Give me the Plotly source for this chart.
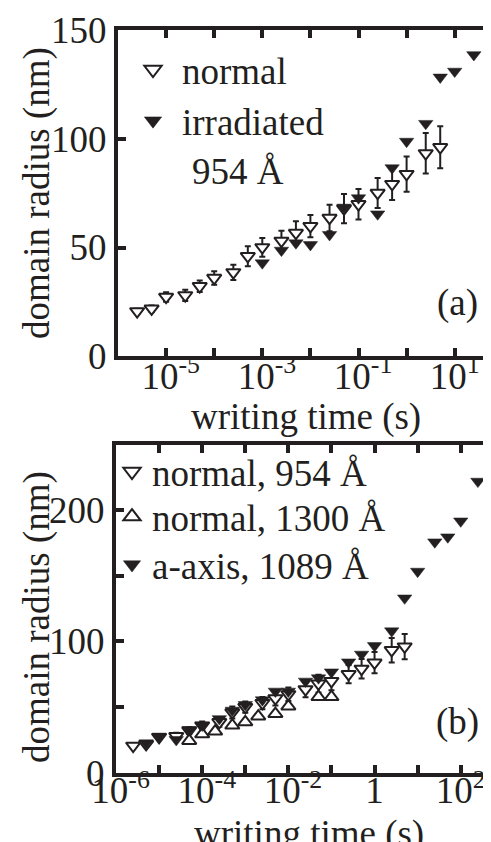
import plotly.graph_objects as go

# ---------------- data ----------------
# panel (a)
times_normal_954 = [2.5e-6, 5e-6, 1e-5, 2.5e-5, 5e-5, 1e-4, 2.5e-4, 5e-4, 1e-3, 2.5e-3,
                    5e-3, 1e-2, 2.5e-2, 5e-2, 0.1, 0.25, 0.5, 1, 2.5, 5]
radius_normal_954 = [20.7, 21.9, 27.3, 28.0, 32.2, 36.0, 38.6, 46.0, 50.1, 53.1,
                     56.7, 59.8, 63.6, 67.9, 69.9, 75.1, 79.2, 83.8, 93.3, 96.1]
err_normal_954 = [1.2, 1.5, 2.2, 2.6, 2.6, 3.1, 3.5, 4.6, 4.3, 4.6,
                  5.4, 5.1, 6.1, 6.7, 7.0, 6.9, 7.4, 8.1, 9.3, 9.6]

times_irradiated = [1e-3, 2.5e-3, 5e-3, 1e-2, 2.5e-2, 5e-2, 0.1, 0.25, 0.5, 1, 2.5, 5, 10, 25]
radius_irradiated = [42.9, 48.7, 52.1, 51.3, 55.9, 68.5, 72.8, 65.4, 86.6, 98.8, 107.0, 128.3, 131.0, 138.6]

# panel (b)
times_normal_1300 = [5e-5, 1e-4, 2e-4, 5e-4, 1e-3, 2e-3, 5e-3, 1e-2, 5e-2, 0.1]
radius_normal_1300 = [24.5, 29.5, 31.6, 36.1, 38.7, 43.1, 45.0, 50.7, 57.8, 57.8]

times_aaxis_1089 = [5e-6, 1e-5, 2.5e-5, 5e-5, 1e-4, 2.5e-4, 5e-4, 1e-3, 2.5e-3, 5e-3,
                    1e-2, 2.5e-2, 5e-2, 0.1, 0.25, 0.5, 1, 2.5, 5, 10, 25, 50, 100, 250]
radius_aaxis_1089 = [22.8, 27.9, 25.3, 32.9, 36.2, 41.2, 47.6, 51.9, 55.5, 62.1,
                     62.1, 69.7, 72.2, 76.7, 84.3, 90.2, 96.7, 107.9, 132.9, 153.2, 175.5, 179.3, 191.4, 221.6]

# ticks (labelled majors + unlabelled minors)
xticks_a = [1e-5, 1e-3, 1e-1, 10]
xlabels_a = ["\u00a010<sup>-5</sup>", "\u00a010<sup>-3</sup>",
             "\u00a010<sup>-1</sup>", "10<sup>1</sup>"]
xminor_a = [1e-6, 1e-4, 1e-2, 1]
yticks_a = [0, 50, 100, 150]
ylabels_a = ["0", "50", "100", "150"]

xticks_b = [1e-6, 1e-4, 1e-2, 1, 100]
xlabels_b = ["\u00a010<sup>-6</sup>", "\u00a010<sup>-4</sup>",
             "\u00a010<sup>-2</sup>", "1", "10<sup>2</sup>"]
xminor_b = [1e-5, 1e-3, 1e-1, 10]
yticks_b = [0, 100, 200]
ylabels_b = ["0", "100", "200"]
yminor_b = [50, 150]

# ---------------- style ----------------
W, H = 491, 842
INK = "#231f20"
FONT = "Liberation Serif"
FS = 37
MS = 12.5
LEG_MS = 15


def px(v):
    return v / W


def py(v):
    return 1 - v / H


fig = go.Figure()

err_style = dict(type="data", visible=True, color=INK, thickness=2, width=3)
open_down = dict(symbol="triangle-down", size=MS, color="white", line=dict(color=INK, width=2))
open_up = dict(symbol="triangle-up", size=MS, color="white", line=dict(color=INK, width=2))
filled_down = dict(symbol="triangle-down", size=MS, color=INK, line=dict(color=INK, width=0.5))

# panel (a)
fig.add_trace(go.Scatter(x=times_normal_954, y=radius_normal_954, mode="markers",
                         error_y=dict(array=err_normal_954, **err_style),
                         marker=open_down, xaxis="x", yaxis="y", showlegend=False))
fig.add_trace(go.Scatter(x=times_irradiated, y=radius_irradiated, mode="markers",
                         marker=filled_down, xaxis="x", yaxis="y", showlegend=False))
# panel (b)
fig.add_trace(go.Scatter(x=times_normal_954, y=radius_normal_954, mode="markers",
                         error_y=dict(array=err_normal_954, **err_style),
                         marker=open_down, xaxis="x2", yaxis="y2", showlegend=False))
fig.add_trace(go.Scatter(x=times_normal_1300, y=radius_normal_1300, mode="markers",
                         marker=open_up, xaxis="x2", yaxis="y2", showlegend=False))
fig.add_trace(go.Scatter(x=times_aaxis_1089, y=radius_aaxis_1089, mode="markers",
                         marker=filled_down, xaxis="x2", yaxis="y2", showlegend=False))


# legend entries (no data, legend symbols only)
def leg(name, marker, legend, xa, ya):
    m = dict(marker)
    m["size"] = LEG_MS
    fig.add_trace(go.Scatter(x=[None], y=[None], mode="markers", name=name, marker=m,
                             legend=legend, xaxis=xa, yaxis=ya, hoverinfo="skip"))


leg("normal", open_down, "legend", "x", "y")
leg("irradiated", filled_down, "legend", "x", "y")
leg("normal, 954 Å", open_down, "legend2", "x2", "y2")
leg("normal, 1300 Å", open_up, "legend3", "x2", "y2")
leg("a-axis, 1089 Å", filled_down, "legend4", "x2", "y2")

# empty traces so that the right-hand tick axes exist
fig.add_trace(go.Scatter(x=[None], y=[None], xaxis="x", yaxis="y3", showlegend=False, hoverinfo="skip"))
fig.add_trace(go.Scatter(x=[None], y=[None], xaxis="x2", yaxis="y4", showlegend=False, hoverinfo="skip"))

minor_style = dict(ticks="inside", ticklen=8, tickwidth=4, tickcolor=INK, showgrid=False)
axis_common = dict(showgrid=False, zeroline=False, showline=True, linecolor=INK, linewidth=4,
                   ticks="inside", ticklen=8, tickwidth=4, tickcolor=INK, automargin=False,
                   tickfont=dict(family=FONT, size=FS, color=INK))
right_common = dict(side="right", showgrid=False, zeroline=False, showline=False, ticks="inside",
                    ticklen=6, tickwidth=4, tickcolor=INK, showticklabels=False, automargin=False)

dom_a_y = [py(348.3), py(22)]
dom_b_y = [py(765), py(437.3)]

legend_common = dict(xanchor="left", yanchor="top", bgcolor="rgba(0,0,0,0)",
                     font=dict(family=FONT, size=FS, color=INK), tracegroupgap=0)

fig.update_layout(
    template="none",
    width=W, height=H,
    margin=dict(l=0, r=0, t=0, b=0, autoexpand=False),
    paper_bgcolor="white", plot_bgcolor="white",
    font=dict(family=FONT, size=FS, color=INK),
    xaxis=dict(type="log", range=[-6.0, 1.921], domain=[px(110), 1], anchor="y",
               tickvals=xticks_a, ticktext=xlabels_a, mirror="ticks", ticklabelstandoff=-16,
               minor=dict(tickvals=xminor_a, **minor_style), **axis_common),
    yaxis=dict(range=[0, 150], domain=dom_a_y, anchor="x",
               tickvals=yticks_a, ticktext=ylabels_a, mirror=False, **axis_common),
    yaxis3=dict(range=[0, 150], overlaying="y", anchor="x", tickvals=yticks_a, **right_common),
    xaxis2=dict(type="log", range=[-6.0, 2.888], domain=[px(108), 1], anchor="y2",
                tickvals=xticks_b, ticktext=xlabels_b, mirror="ticks", ticklabelstandoff=-18,
                minor=dict(tickvals=xminor_b, **minor_style), **axis_common),
    yaxis2=dict(range=[0, 249], domain=dom_b_y, anchor="x2",
                tickvals=yticks_b, ticktext=ylabels_b, mirror=False,
                minor=dict(tickvals=yminor_b, **minor_style), **axis_common),
    yaxis4=dict(range=[0, 249], overlaying="y2", anchor="x2", tickvals=yticks_b,
                minor=dict(tickvals=yminor_b, ticks="inside", ticklen=6, tickwidth=4, tickcolor=INK),
                **right_common),
    legend=dict(x=px(116), y=py(31), itemwidth=48, **legend_common),
    legend2=dict(x=px(104), y=py(433), itemwidth=30, **legend_common),
    legend3=dict(x=px(104), y=py(478), itemwidth=30, **legend_common),
    legend4=dict(x=px(104), y=py(526), itemwidth=30, **legend_common),
    showlegend=True,
)

ann = dict(showarrow=False, xref="paper", yref="paper", font=dict(family=FONT, size=FS, color=INK))
fig.add_annotation(text="954 Å", x=px(182), y=py(164), xanchor="left", yanchor="middle", **ann)
fig.add_annotation(text="(a)", x=px(449), y=py(295), xanchor="center", yanchor="middle", **ann)
fig.add_annotation(text="(b)", x=px(449), y=py(714), xanchor="center", yanchor="middle", **ann)
fig.add_annotation(text="domain radius (nm)", x=px(29), y=py(185), textangle=-90,
                   xanchor="center", yanchor="middle", **ann)
fig.add_annotation(text="domain radius (nm)", x=px(29), y=py(609), textangle=-90,
                   xanchor="center", yanchor="middle", **ann)
fig.add_annotation(text="writing time (s)", x=px(298), y=py(409), xanchor="center", yanchor="middle", **ann)
fig.add_annotation(text="writing time (s)", x=px(301), y=py(826), xanchor="center", yanchor="middle", **ann)

fig.write_html("out.html")
